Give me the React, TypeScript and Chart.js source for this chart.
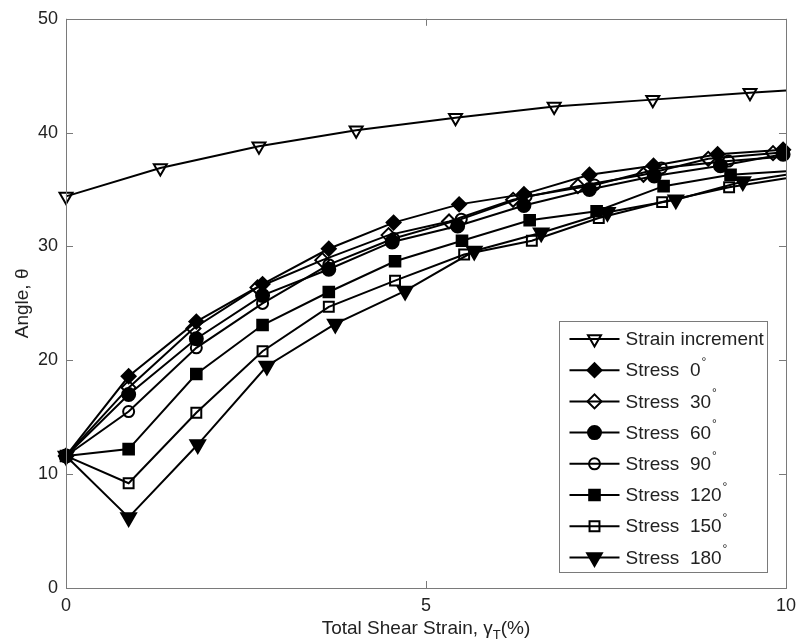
import React, { useEffect, useRef } from 'react';
import { Chart, registerables } from 'chart.js';
import { drawPoint } from 'chart.js/helpers';

Chart.register(...registerables);

const FONT = "'Liberation Sans', Arial, sans-serif";

// ---- data ----
const seriesLabels = [
  'Strain increment',
  'Stress  0°',
  'Stress  30°',
  'Stress  60°',
  'Stress  90°',
  'Stress  120°',
  'Stress  150°',
  'Stress  180°',
];

const strainX = [0, 1.31, 2.68, 4.03, 5.41, 6.78, 8.15, 9.5, 10];
const strainY = [34.4, 36.9, 38.8, 40.2, 41.3, 42.3, 42.9, 43.5, 43.7];

const stress0X = [0, 0.87, 1.81, 2.73, 3.65, 4.55, 5.46, 6.36, 7.27, 8.16, 9.05, 9.96];
const stress0Y = [11.6, 18.6, 23.4, 26.7, 29.8, 32.1, 33.7, 34.6, 36.3, 37.1, 38.1, 38.5];

const stress30X = [0, 0.87, 1.77, 2.66, 3.56, 4.48, 5.32, 6.21, 7.11, 8.02, 8.92, 9.82, 10];
const stress30Y = [11.6, 17.6, 22.8, 26.4, 28.8, 31.0, 32.2, 34.1, 35.3, 36.3, 37.7, 38.2, 38.3];

const stress60X = [0, 0.87, 1.81, 2.73, 3.65, 4.53, 5.44, 6.36, 7.27, 8.17, 9.09, 9.96];
const stress60Y = [11.6, 17.0, 21.9, 25.7, 28.0, 30.4, 31.8, 33.6, 35.0, 36.2, 37.1, 38.1];

const stress90X = [0, 0.87, 1.81, 2.73, 3.65, 4.55, 5.49, 6.39, 7.34, 8.27, 9.2, 10];
const stress90Y = [11.6, 15.5, 21.1, 25.0, 28.4, 30.7, 32.4, 34.4, 35.4, 36.9, 37.5, 37.9];

const stress120X = [0, 0.87, 1.81, 2.73, 3.65, 4.57, 5.5, 6.44, 7.37, 8.3, 9.23, 10];
const stress120Y = [11.6, 12.2, 18.8, 23.1, 26.0, 28.7, 30.5, 32.3, 33.1, 35.3, 36.3, 36.6];

const stress150X = [0, 0.87, 1.81, 2.73, 3.65, 4.57, 5.53, 6.47, 7.4, 8.28, 9.21, 10];
const stress150Y = [11.6, 9.2, 15.4, 20.8, 24.7, 27.0, 29.3, 30.5, 32.5, 33.9, 35.2, 36.0];

const stress180X = [0, 0.87, 1.83, 2.79, 3.74, 4.71, 5.67, 6.6, 7.52, 8.47, 9.4, 10];
const stress180Y = [11.6, 6.2, 12.6, 19.5, 23.2, 26.1, 29.6, 31.2, 33.0, 34.1, 35.7, 36.3];

const xTicks = [0, 5, 10];
const yTicks = [0, 10, 20, 30, 40, 50];

const xTitleMain = 'Total Shear Strain, γ';
const xTitleSub = 'T';
const xTitleEnd = '(%)';
const yTitle = 'Angle, θ';

// ---- styling helpers ----
type Marker = { style: string; filled: boolean; r: number; rot: number };
const markers: Marker[] = [
  { style: 'triangle', filled: false, r: 7.5, rot: 180 },
  { style: 'rectRot', filled: true, r: 7, rot: 0 },
  { style: 'rectRot', filled: false, r: 7, rot: 0 },
  { style: 'circle', filled: true, r: 6.5, rot: 0 },
  { style: 'circle', filled: false, r: 5.5, rot: 0 },
  { style: 'rect', filled: true, r: 7.5, rot: 0 },
  { style: 'rect', filled: false, r: 7, rot: 0 },
  { style: 'triangle', filled: true, r: 8.5, rot: 180 },
];

const allX = [strainX, stress0X, stress30X, stress60X, stress90X, stress120X, stress150X, stress180X];
const allY = [strainY, stress0Y, stress30Y, stress60Y, stress90Y, stress120Y, stress150Y, stress180Y];

const AXIS_GRAY = '#7a7a7a';
const TEXT = '#222222';

const framePlugin = {
  id: 'frame',
  afterDatasetsDraw(chart: any) {
    const { ctx, chartArea: a, scales } = chart;
    ctx.save();
    ctx.strokeStyle = AXIS_GRAY;
    ctx.lineWidth = 1;
    ctx.strokeRect(Math.round(a.left) + 0.5, Math.round(a.top) + 0.5, Math.round(a.right - a.left), Math.round(a.bottom - a.top));
    const tl = 7;
    ctx.beginPath();
    for (const v of xTicks) {
      const px = Math.round(scales.x.getPixelForValue(v)) + 0.5;
      ctx.moveTo(px, a.bottom);
      ctx.lineTo(px, a.bottom - tl);
      ctx.moveTo(px, a.top);
      ctx.lineTo(px, a.top + tl);
    }
    for (const v of yTicks) {
      const py = Math.round(scales.y.getPixelForValue(v)) + 0.5;
      ctx.moveTo(a.left, py);
      ctx.lineTo(a.left + tl, py);
      ctx.moveTo(a.right, py);
      ctx.lineTo(a.right - tl, py);
    }
    ctx.stroke();
    ctx.restore();
  },
};

const drawDegreeText = (ctx: any, text: string, x: number, y: number, size: number) => {
  let main = text;
  let deg = false;
  if (text.endsWith('°')) {
    main = text.slice(0, -1);
    deg = true;
  }
  ctx.font = `${size}px ${FONT}`;
  ctx.fillText(main, x, y);
  if (deg) {
    const w = ctx.measureText(main).width;
    ctx.font = `${Math.round(size * 0.62)}px ${FONT}`;
    ctx.fillText('°', x + w + 1, y - size * 0.45);
  }
};

const legendPlugin = {
  id: 'boxLegend',
  afterDraw(chart: any) {
    const { ctx, chartArea: a } = chart;
    const left = Math.round(a.right - 227) + 0.5;
    const top = Math.round(a.bottom - 267) + 0.5;
    const w = 208;
    const h = 251;
    ctx.save();
    ctx.fillStyle = '#ffffff';
    ctx.fillRect(left, top, w, h);
    ctx.strokeStyle = AXIS_GRAY;
    ctx.lineWidth = 1;
    ctx.strokeRect(left, top, w, h);
    chart.data.datasets.forEach((ds: any, i: number) => {
      const cy = top + 17.5 + i * 31.2;
      ctx.strokeStyle = '#000';
      ctx.lineWidth = 2;
      ctx.beginPath();
      ctx.moveTo(left + 10, cy);
      ctx.lineTo(left + 60, cy);
      ctx.stroke();
      const m = markers[i];
      ctx.fillStyle = m.filled ? '#000' : 'rgba(0,0,0,0)';
      ctx.strokeStyle = '#000';
      ctx.lineWidth = 2;
      drawPoint(ctx, { pointStyle: m.style, radius: m.r, rotation: m.rot, borderWidth: 2 } as any, left + 35, cy);
      ctx.fillStyle = TEXT;
      ctx.textBaseline = 'middle';
      ctx.textAlign = 'left';
      drawDegreeText(ctx, ds.label, left + 66, cy + 1, 19);
    });
    ctx.restore();
  },
};

const xTitlePlugin = {
  id: 'xTitle',
  afterDraw(chart: any) {
    const { ctx, chartArea: a } = chart;
    ctx.save();
    ctx.fillStyle = TEXT;
    ctx.textBaseline = 'alphabetic';
    ctx.textAlign = 'left';
    const size = 19;
    const subSize = 13;
    ctx.font = `${size}px ${FONT}`;
    const w1 = ctx.measureText(xTitleMain).width;
    const w3 = ctx.measureText(xTitleEnd).width;
    ctx.font = `${subSize}px ${FONT}`;
    const w2 = ctx.measureText(xTitleSub).width;
    const total = w1 + w2 + w3;
    const cx = (a.left + a.right) / 2;
    const base = a.bottom + 46;
    let x = cx - total / 2;
    ctx.font = `${size}px ${FONT}`;
    ctx.fillText(xTitleMain, x, base);
    x += w1;
    ctx.font = `${subSize}px ${FONT}`;
    ctx.fillText(xTitleSub, x, base + 5);
    x += w2;
    ctx.font = `${size}px ${FONT}`;
    ctx.fillText(xTitleEnd, x, base);
    ctx.restore();
  },
};

export default function App() {
  const ref = useRef<HTMLCanvasElement | null>(null);

  useEffect(() => {
    if (!ref.current) return;
    const n = seriesLabels.length;
    const datasets = seriesLabels.map((label, i) => {
      const m = markers[i];
      return {
        label,
        data: allX[i].map((x, j) => ({ x, y: allY[i][j] })),
        borderColor: '#000',
        borderWidth: 2,
        backgroundColor: '#000',
        pointStyle: m.style,
        pointRotation: m.rot,
        pointRadius: (c: any) => (c.raw && c.raw.x >= 10 ? 0 : m.r),
        pointBorderWidth: 2,
        pointBorderColor: '#000',
        pointBackgroundColor: m.filled ? '#000' : 'rgba(0,0,0,0)',
        tension: 0,
        fill: false,
        clip: false as any,
        order: n - i,
      };
    });

    const chart = new Chart(ref.current, {
      type: 'line',
      data: { datasets: datasets as any },
      options: {
        responsive: false,
        animation: false,
        layout: { padding: { left: 0, right: 14, top: 15, bottom: 0 } },
        plugins: {
          legend: { display: false },
          tooltip: { enabled: false },
        },
        scales: {
          x: {
            type: 'linear',
            min: 0,
            max: 10,
            border: { display: false },
            grid: { display: false, drawTicks: false },
            afterBuildTicks: (s: any) => {
              s.ticks = xTicks.map((v) => ({ value: v }));
            },
            ticks: {
              color: TEXT,
              font: { family: FONT, size: 18 },
              padding: 7,
              maxRotation: 0,
              autoSkip: false,
            },
            afterFit: (s: any) => {
              s.height = 53;
            },
          },
          y: {
            type: 'linear',
            min: 0,
            max: 50,
            border: { display: false },
            grid: { display: false, drawTicks: false },
            afterBuildTicks: (s: any) => {
              s.ticks = yTicks.map((v) => ({ value: v }));
            },
            ticks: {
              color: TEXT,
              font: { family: FONT, size: 18 },
              padding: 8,
              autoSkip: false,
            },
            title: {
              display: true,
              text: yTitle,
              color: TEXT,
              font: { family: FONT, size: 19 },
              padding: { top: 11, bottom: 0 },
            },
            afterFit: (s: any) => {
              s.width = 66;
            },
          },
        },
      },
      plugins: [framePlugin, legendPlugin, xTitlePlugin],
    });
    return () => chart.destroy();
  }, []);

  return (
    <div style={{ position: 'absolute', left: 0, top: 0, width: 803, height: 641, background: '#fff' }}>
      <canvas ref={ref} width={803} height={641} style={{ display: 'block' }} />
    </div>
  );
}
